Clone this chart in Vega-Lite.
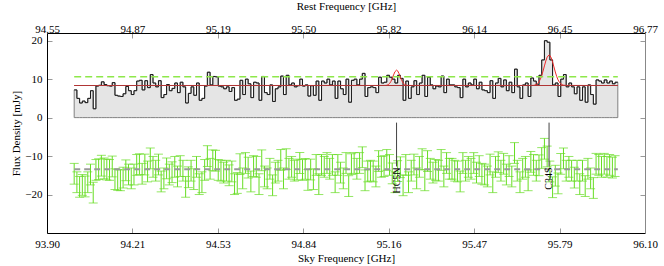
{
"$schema":"https://vega.github.io/schema/vega-lite/v6.json",
"width":598,"height":200,"autosize":"none",
"padding":{"left":47,"right":19,"top":33,"bottom":33},
"config":{"view":{"stroke":null},"font":"Liberation Serif",
"axis":{"labelFont":"Liberation Serif","titleFont":"Liberation Serif","labelFontSize":11,"titleFontSize":11,"titleFontWeight":"normal","labelColor":"black","titleColor":"black","grid":false,"tickColor":"#999","tickSize":-5,"tickWidth":1,"domainColor":"black","domainWidth":1,"labelPadding":10,"labelFlush":false,"labelOverlap":false}},
"datasets":{
"spec":[
{"f":94.00,"v":7.2,"r":-14.6,"e":2.7},{"f":94.01,"v":5.0,"r":-16.8,"e":2.7},{"f":94.02,"v":3.8,"r":-18.0,"e":2.7},{"f":94.03,"v":4.3,"r":-17.5,"e":2.7},{"f":94.04,"v":3.9,"r":-17.9,"e":2.7},{"f":94.05,"v":5.0,"r":-16.8,"e":2.7},{"f":94.06,"v":7.0,"r":-14.8,"e":2.7},{"f":94.07,"v":2.3,"r":-19.5,"e":2.7},{"f":94.08,"v":8.2,"r":-13.6,"e":2.7},{"f":94.09,"v":8.4,"r":-13.4,"e":2.7},
{"f":94.10,"v":9.3,"r":-12.5,"e":2.7},{"f":94.11,"v":8.6,"r":-13.2,"e":2.7},{"f":94.12,"v":8.3,"r":-13.5,"e":2.7},{"f":94.13,"v":8.2,"r":-13.6,"e":2.7},{"f":94.14,"v":9.1,"r":-12.7,"e":2.7},{"f":94.15,"v":5.8,"r":-16.0,"e":2.7},{"f":94.16,"v":5.6,"r":-16.2,"e":2.7},{"f":94.17,"v":5.5,"r":-16.3,"e":2.7},{"f":94.18,"v":6.2,"r":-15.6,"e":2.7},{"f":94.19,"v":8.1,"r":-13.7,"e":2.7},
{"f":94.20,"v":7.0,"r":-14.8,"e":2.7},{"f":94.21,"v":6.0,"r":-15.8,"e":2.7},{"f":94.22,"v":7.0,"r":-14.8,"e":2.7},{"f":94.23,"v":9.5,"r":-12.3,"e":2.7},{"f":94.24,"v":9.7,"r":-12.1,"e":2.7},{"f":94.25,"v":7.2,"r":-14.6,"e":2.7},{"f":94.26,"v":9.6,"r":-12.2,"e":2.7},{"f":94.27,"v":7.8,"r":-14.0,"e":2.7},{"f":94.28,"v":11.2,"r":-10.6,"e":2.7},{"f":94.29,"v":9.0,"r":-12.8,"e":2.7},
{"f":94.30,"v":8.0,"r":-13.8,"e":2.7},{"f":94.31,"v":9.6,"r":-12.2,"e":2.7},{"f":94.32,"v":5.2,"r":-16.6,"e":2.7},{"f":94.33,"v":6.0,"r":-15.8,"e":2.7},{"f":94.34,"v":8.6,"r":-13.2,"e":2.7},{"f":94.35,"v":7.0,"r":-14.8,"e":2.7},{"f":94.36,"v":7.6,"r":-14.2,"e":2.7},{"f":94.37,"v":9.0,"r":-12.8,"e":2.7},{"f":94.38,"v":6.5,"r":-15.3,"e":2.7},{"f":94.39,"v":9.2,"r":-12.6,"e":2.7},
{"f":94.40,"v":8.0,"r":-13.8,"e":2.7},{"f":94.41,"v":3.8,"r":-18.0,"e":2.7},{"f":94.42,"v":6.3,"r":-15.5,"e":2.7},{"f":94.43,"v":8.0,"r":-13.8,"e":2.7},{"f":94.44,"v":5.8,"r":-16.0,"e":2.7},{"f":94.45,"v":9.0,"r":-12.8,"e":2.7},{"f":94.46,"v":4.5,"r":-17.3,"e":2.7},{"f":94.47,"v":5.0,"r":-16.8,"e":2.7},{"f":94.48,"v":8.2,"r":-13.6,"e":2.7},{"f":94.49,"v":11.8,"r":-10.0,"e":2.7},
{"f":94.50,"v":8.5,"r":-13.3,"e":2.7},{"f":94.51,"v":10.7,"r":-11.1,"e":2.7},{"f":94.52,"v":10.6,"r":-11.2,"e":2.7},{"f":94.53,"v":8.2,"r":-13.6,"e":2.7},{"f":94.54,"v":8.0,"r":-13.8,"e":2.7},{"f":94.55,"v":7.5,"r":-14.3,"e":2.7},{"f":94.56,"v":8.0,"r":-13.8,"e":2.7},{"f":94.57,"v":6.8,"r":-15.0,"e":2.7},{"f":94.58,"v":7.8,"r":-14.0,"e":2.7},{"f":94.59,"v":4.5,"r":-17.3,"e":2.7},
{"f":94.60,"v":4.8,"r":-17.0,"e":2.7},{"f":94.61,"v":9.7,"r":-12.1,"e":2.7},{"f":94.62,"v":6.0,"r":-15.8,"e":2.7},{"f":94.63,"v":10.0,"r":-11.8,"e":2.7},{"f":94.64,"v":8.8,"r":-13.0,"e":2.7},{"f":94.65,"v":5.2,"r":-16.6,"e":2.7},{"f":94.66,"v":9.2,"r":-12.6,"e":2.7},{"f":94.67,"v":9.0,"r":-12.8,"e":2.7},{"f":94.68,"v":4.5,"r":-17.3,"e":2.7},{"f":94.69,"v":10.7,"r":-11.1,"e":2.7},
{"f":94.70,"v":6.5,"r":-15.3,"e":2.7},{"f":94.71,"v":6.0,"r":-15.8,"e":2.7},{"f":94.72,"v":8.5,"r":-13.3,"e":2.7},{"f":94.73,"v":4.2,"r":-17.6,"e":2.7},{"f":94.74,"v":7.5,"r":-14.3,"e":2.7},{"f":94.75,"v":8.0,"r":-13.8,"e":2.7},{"f":94.76,"v":10.8,"r":-11.0,"e":2.7},{"f":94.77,"v":6.0,"r":-15.8,"e":2.7},{"f":94.78,"v":11.0,"r":-10.8,"e":2.7},{"f":94.79,"v":8.5,"r":-13.3,"e":2.7},
{"f":94.80,"v":9.0,"r":-12.8,"e":2.7},{"f":94.81,"v":8.0,"r":-13.8,"e":2.7},{"f":94.82,"v":8.3,"r":-13.5,"e":2.7},{"f":94.83,"v":10.0,"r":-11.8,"e":2.7},{"f":94.84,"v":8.2,"r":-13.6,"e":2.7},{"f":94.85,"v":8.5,"r":-13.3,"e":2.7},{"f":94.86,"v":5.6,"r":-16.2,"e":2.7},{"f":94.87,"v":8.3,"r":-13.5,"e":2.7},{"f":94.88,"v":5.8,"r":-16.0,"e":2.7},{"f":94.89,"v":9.5,"r":-12.3,"e":2.7},
{"f":94.90,"v":4.5,"r":-17.3,"e":2.7},{"f":94.91,"v":9.5,"r":-12.3,"e":2.7},{"f":94.92,"v":9.0,"r":-12.8,"e":2.7},{"f":94.93,"v":10.0,"r":-11.8,"e":2.7},{"f":94.94,"v":8.5,"r":-13.3,"e":2.7},{"f":94.95,"v":9.5,"r":-12.3,"e":2.7},{"f":94.96,"v":5.0,"r":-16.8,"e":2.7},{"f":94.97,"v":9.5,"r":-12.3,"e":2.7},{"f":94.98,"v":7.5,"r":-14.3,"e":2.7},{"f":94.99,"v":6.0,"r":-15.8,"e":2.7},
{"f":95.00,"v":10.0,"r":-11.8,"e":2.7},{"f":95.01,"v":4.0,"r":-17.8,"e":2.7},{"f":95.02,"v":9.7,"r":-12.1,"e":2.7},{"f":95.03,"v":10.0,"r":-11.8,"e":2.7},{"f":95.04,"v":8.5,"r":-13.3,"e":2.7},{"f":95.05,"v":10.0,"r":-11.8,"e":2.7},{"f":95.06,"v":11.5,"r":-10.3,"e":2.7},{"f":95.07,"v":5.5,"r":-16.3,"e":2.7},{"f":95.08,"v":7.8,"r":-14.0,"e":2.7},{"f":95.09,"v":8.0,"r":-13.8,"e":2.7},
{"f":95.10,"v":7.8,"r":-14.0,"e":2.7},{"f":95.11,"v":6.5,"r":-15.3,"e":2.7},{"f":95.12,"v":10.5,"r":-11.3,"e":2.7},{"f":95.13,"v":9.0,"r":-12.8,"e":2.7},{"f":95.14,"v":9.2,"r":-12.6,"e":2.7},{"f":95.15,"v":11.0,"r":-11.0,"e":2.7},{"f":95.16,"v":10.5,"r":-12.3,"e":2.7},{"f":95.17,"v":10.0,"r":-14.5,"e":2.7},{"f":95.18,"v":9.0,"r":-16.8,"e":2.7},{"f":95.19,"v":11.0,"r":-13.9,"e":2.7},
{"f":95.20,"v":10.2,"r":-12.9,"e":2.7},{"f":95.21,"v":4.5,"r":-17.6,"e":2.7},{"f":95.22,"v":9.5,"r":-12.3,"e":2.7},{"f":95.23,"v":5.0,"r":-16.8,"e":2.7},{"f":95.24,"v":8.0,"r":-13.8,"e":2.7},{"f":95.25,"v":9.6,"r":-12.2,"e":2.7},{"f":95.26,"v":6.0,"r":-15.8,"e":2.7},{"f":95.27,"v":9.0,"r":-12.8,"e":2.7},{"f":95.28,"v":11.0,"r":-10.8,"e":2.7},{"f":95.29,"v":5.5,"r":-16.3,"e":2.7},
{"f":95.30,"v":10.5,"r":-11.3,"e":2.7},{"f":95.31,"v":8.5,"r":-13.3,"e":2.7},{"f":95.32,"v":7.5,"r":-14.3,"e":2.7},{"f":95.33,"v":8.2,"r":-13.6,"e":2.7},{"f":95.34,"v":8.0,"r":-13.8,"e":2.7},{"f":95.35,"v":10.8,"r":-11.0,"e":2.7},{"f":95.36,"v":6.5,"r":-15.3,"e":2.7},{"f":95.37,"v":10.0,"r":-11.8,"e":2.7},{"f":95.38,"v":8.5,"r":-13.3,"e":2.7},{"f":95.39,"v":8.5,"r":-13.3,"e":2.7},
{"f":95.40,"v":8.0,"r":-13.8,"e":2.7},{"f":95.41,"v":7.8,"r":-14.0,"e":2.7},{"f":95.42,"v":5.2,"r":-16.6,"e":2.7},{"f":95.43,"v":10.0,"r":-11.8,"e":2.7},{"f":95.44,"v":8.0,"r":-13.8,"e":2.7},{"f":95.45,"v":9.0,"r":-12.8,"e":2.7},{"f":95.46,"v":8.5,"r":-13.3,"e":2.7},{"f":95.47,"v":10.0,"r":-11.8,"e":2.7},{"f":95.48,"v":7.5,"r":-14.3,"e":2.7},{"f":95.49,"v":9.2,"r":-12.6,"e":2.7},
{"f":95.50,"v":7.2,"r":-14.6,"e":2.7},{"f":95.51,"v":7.0,"r":-14.8,"e":2.7},{"f":95.52,"v":6.5,"r":-15.3,"e":2.7},{"f":95.53,"v":9.6,"r":-12.2,"e":2.7},{"f":95.54,"v":5.0,"r":-16.8,"e":2.7},{"f":95.55,"v":9.0,"r":-12.8,"e":2.7},{"f":95.56,"v":10.2,"r":-11.6,"e":2.7},{"f":95.57,"v":8.0,"r":-13.8,"e":2.7},{"f":95.58,"v":9.8,"r":-12.0,"e":2.7},{"f":95.59,"v":7.0,"r":-14.8,"e":2.7},
{"f":95.60,"v":9.2,"r":-12.6,"e":2.7},{"f":95.61,"v":6.5,"r":-15.3,"e":2.7},{"f":95.62,"v":12.6,"r":-9.2,"e":2.7},{"f":95.63,"v":8.0,"r":-13.8,"e":2.7},{"f":95.64,"v":5.0,"r":-16.8,"e":2.7},{"f":95.65,"v":8.5,"r":-13.3,"e":2.7},{"f":95.66,"v":9.0,"r":-12.8,"e":2.7},{"f":95.67,"v":5.5,"r":-16.3,"e":2.7},{"f":95.68,"v":10.3,"r":-11.5,"e":2.7},{"f":95.69,"v":9.5,"r":-12.3,"e":2.7},
{"f":95.70,"v":8.5,"r":-13.8,"e":2.7},{"f":95.71,"v":11.0,"r":-12.4,"e":2.7},{"f":95.72,"v":15.0,"r":-10.5,"e":2.7},{"f":95.73,"v":20.0,"r":-8.1,"e":2.7},{"f":95.74,"v":19.6,"r":-10.1,"e":2.7},{"f":95.75,"v":15.0,"r":-14.0,"e":2.7},{"f":95.76,"v":8.5,"r":-18.1,"e":2.7},{"f":95.77,"v":9.0,"r":-15.1,"e":2.7},{"f":95.78,"v":5.5,"r":-17.1,"e":2.7},{"f":95.79,"v":10.0,"r":-12.0,"e":2.7},
{"f":95.80,"v":11.2,"r":-10.6,"e":2.7},{"f":95.81,"v":8.0,"r":-13.8,"e":2.7},{"f":95.82,"v":9.0,"r":-12.8,"e":2.7},{"f":95.83,"v":8.0,"r":-13.8,"e":2.7},{"f":95.84,"v":6.2,"r":-15.6,"e":2.7},{"f":95.85,"v":8.0,"r":-13.8,"e":2.7},{"f":95.86,"v":4.5,"r":-17.3,"e":2.7},{"f":95.87,"v":8.0,"r":-13.8,"e":2.7},{"f":95.88,"v":4.0,"r":-17.8,"e":2.7},{"f":95.89,"v":8.5,"r":-13.3,"e":2.7},
{"f":95.90,"v":6.0,"r":-15.8,"e":2.7},{"f":95.91,"v":3.5,"r":-18.3,"e":2.7},{"f":95.92,"v":9.8,"r":-12.0,"e":2.7},{"f":95.93,"v":9.5,"r":-12.3,"e":2.7},{"f":95.94,"v":9.0,"r":-12.8,"e":2.7},{"f":95.95,"v":9.8,"r":-12.0,"e":2.7},{"f":95.96,"v":9.0,"r":-12.8,"e":2.7},{"f":95.97,"v":9.5,"r":-12.3,"e":2.7},{"f":95.98,"v":8.8,"r":-13.0,"e":2.7},{"f":95.99,"v":9.2,"r":-12.6,"e":2.7},
{"f":96.00,"v":9.2}
],
"model":[
{"f":94.0,"m":8.35},{"f":95.14,"m":8.36},{"f":95.145,"m":8.37},{"f":95.15,"m":8.42},{"f":95.155,"m":8.55},{"f":95.16,"m":8.84},{"f":95.165,"m":9.37},{"f":95.17,"m":10.16},{"f":95.175,"m":11.10},{"f":95.18,"m":11.93},{"f":95.186,"m":12.35},{"f":95.19,"m":12.16},{"f":95.195,"m":11.46},{"f":95.2,"m":10.53},{"f":95.205,"m":9.66},{"f":95.21,"m":9.02},{"f":95.215,"m":8.65},{"f":95.22,"m":8.46},{"f":95.225,"m":8.39},{"f":95.23,"m":8.36},
{"f":95.68,"m":8.36},{"f":95.69,"m":8.40},{"f":95.695,"m":8.47},{"f":95.7,"m":8.61},{"f":95.705,"m":8.88},{"f":95.71,"m":9.31},{"f":95.715,"m":9.99},{"f":95.72,"m":10.93},{"f":95.725,"m":12.12},{"f":95.73,"m":13.44},{"f":95.735,"m":14.72},{"f":95.74,"m":15.72},{"f":95.747,"m":16.30},{"f":95.75,"m":16.19},{"f":95.755,"m":15.55},{"f":95.76,"m":14.47},{"f":95.765,"m":13.18},{"f":95.77,"m":11.86},{"f":95.775,"m":10.72},{"f":95.78,"m":9.83},{"f":95.785,"m":9.21},{"f":95.79,"m":8.81},{"f":95.795,"m":8.57},{"f":95.8,"m":8.45},{"f":95.81,"m":8.37},{"f":96.0,"m":8.35}
],
"lev":[{"f":94.0,"c":8.35,"t":10.6,"b":-13.4},{"f":96.0,"c":8.35,"t":10.6,"b":-13.4}],
"lines":[{"f":95.186,"top":-1.3,"bot":-12.7,"name":"HC5N"},{"f":95.747,"top":-1.3,"bot":-12.7,"name":"C34S"}]
},
"layer":[
{"layer":[
{"data":{"name":"spec"},"mark":{"type":"area","interpolate":"step-after","fill":"#e5e5e5","stroke":"#808080","strokeWidth":1},
"encoding":{"x":{"field":"f","type":"quantitative","title":"Sky Frequency [GHz]","scale":{"domain":[93.9,96.1],"nice":false,"zero":false},
"axis":{"orient":"bottom","values":[93.9,94.2143,94.5286,94.8429,95.1571,95.4714,95.7857,96.1],"format":".2f","title":"Sky Frequency [GHz]","titlePadding":3}},
"y":{"field":"v","type":"quantitative","title":"Flux Density [mJy]","scale":{"domain":[-30,22],"nice":false,"zero":false},
"axis":{"orient":"left","values":[-20,-10,0,10,20],"title":"Flux Density [mJy]","titlePadding":3}},
"y2":{"datum":0}}},
{"data":{"name":"spec"},"mark":{"type":"line","interpolate":"step-after","color":"#1a1a1a","strokeWidth":1},
"encoding":{"x":{"field":"f","type":"quantitative","title":"Sky Frequency [GHz]"},"y":{"field":"v","type":"quantitative","title":"Flux Density [mJy]"}}},
{"data":{"name":"model"},"mark":{"type":"line","color":"#ee2a2a","strokeWidth":1},
"encoding":{"x":{"field":"f","type":"quantitative","title":"Sky Frequency [GHz]"},"y":{"field":"m","type":"quantitative","title":"Flux Density [mJy]"}}},
{"data":{"name":"lev"},"mark":{"type":"line","color":"#b03535","strokeWidth":1},
"encoding":{"x":{"field":"f","type":"quantitative","title":"Sky Frequency [GHz]"},"y":{"field":"c","type":"quantitative","title":"Flux Density [mJy]"}}},
{"data":{"name":"lev"},"mark":{"type":"line","color":"#8ee84a","strokeWidth":1.5,"strokeDash":[7,4]},
"encoding":{"x":{"field":"f","type":"quantitative","title":"Sky Frequency [GHz]"},"y":{"field":"t","type":"quantitative","title":"Flux Density [mJy]"}}},
{"data":{"name":"spec"},"transform":[{"filter":"isValid(datum.r)"}],
"mark":{"type":"errorbar","color":"#66dd22","ticks":{"size":9,"color":"#66dd22"}},
"encoding":{"x":{"field":"f","type":"quantitative","title":"Sky Frequency [GHz]"},"y":{"field":"r","type":"quantitative","title":"Flux Density [mJy]"},"yError":{"field":"e"}}},
{"data":{"name":"lev"},"mark":{"type":"line","color":"#999999","strokeWidth":2,"strokeDash":[6,4]},
"encoding":{"x":{"field":"f","type":"quantitative","title":"Sky Frequency [GHz]"},"y":{"field":"b","type":"quantitative","title":"Flux Density [mJy]"}}},
{"data":{"name":"lines"},"mark":{"type":"rule","color":"#444","strokeWidth":1},
"encoding":{"x":{"field":"f","type":"quantitative","title":"Sky Frequency [GHz]"},"y":{"field":"top","type":"quantitative","title":"Flux Density [mJy]"},"y2":{"field":"bot"}}},
{"data":{"name":"lines"},"mark":{"type":"text","angle":270,"align":"right","baseline":"middle","fontSize":10,"font":"Liberation Serif","color":"black","dx":-1},
"encoding":{"x":{"field":"f","type":"quantitative","title":"Sky Frequency [GHz]"},"y":{"field":"bot","type":"quantitative","title":"Flux Density [mJy]"},"text":{"field":"name"}}}
]},
{"data":{"values":[{"rf":94.5526,"yy":0}]},"mark":{"type":"point","opacity":0},
"encoding":{"x":{"field":"rf","type":"quantitative","scale":{"domain":[94.5526,96.7679],"nice":false,"zero":false},
"axis":{"orient":"top","values":[94.5526,94.8691,95.1856,95.502,95.8185,96.1351,96.4515,96.7679],"format":".2f","title":"Rest Frequency [GHz]","labelPadding":3.5,"titlePadding":12.5}},
"y":{"field":"yy","type":"quantitative","title":null,"scale":{"domain":[-30,22],"nice":false,"zero":false},
"axis":{"orient":"right","values":[-20,-10,0,10,20],"labels":false,"title":null,"domainColor":"#888"}}}}
],
"resolve":{"scale":{"x":"independent"},"axis":{"x":"independent","y":"independent"}}
}
